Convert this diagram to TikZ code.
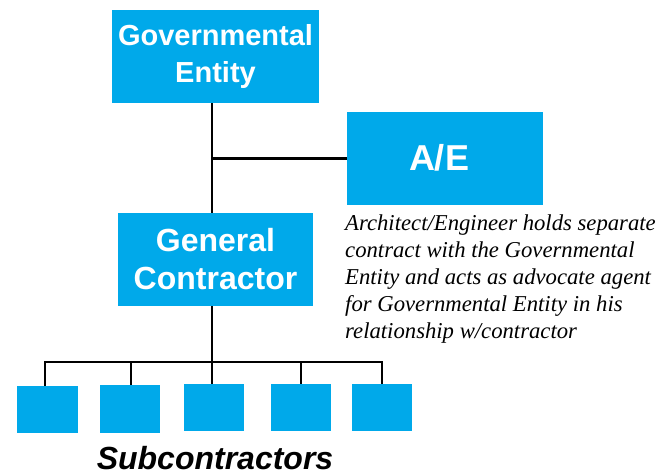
\documentclass[tikz,border=0pt]{standalone}
\usepackage{fontspec}
\setmainfont{Liberation Serif}
\setsansfont{Liberation Sans}
\definecolor{boxblue}{RGB}{0,169,234}
\begin{document}
\begin{tikzpicture}[x=1pt,y=-1pt,
  bluebox/.style={fill=boxblue, draw=none, inner sep=0pt, text=white, align=center, font=\sffamily\bfseries},
  conn/.style={draw=black, line width=2.2pt}]
\useasboundingbox (0,0) rectangle (671,475);
\node[bluebox, minimum width=207pt, minimum height=93pt, font=\sffamily\bfseries\fontsize{29}{37}\selectfont] (GE) at (215.5,56.5) {Governmental\\Entity};
\node[bluebox, minimum width=196pt, minimum height=93pt] (AE) at (444.8,158.5) {};
\node[text=white, font=\sffamily\bfseries\fontsize{36}{40}\selectfont, inner sep=0pt] (AEt) at (439,158) {A/E};
\node[bluebox, minimum width=195pt, minimum height=93pt, font=\sffamily\bfseries\fontsize{32}{38}\selectfont] (GC) at (215.5,259.5) {General\\Contractor};
\node[bluebox, minimum width=61pt, minimum height=47pt] (s1) at (47.5,409.5) {};
\node[bluebox, minimum width=60pt, minimum height=48pt] (s2) at (130,409) {};
\node[bluebox, minimum width=60pt, minimum height=47pt] (s3) at (214,407.5) {};
\node[bluebox, minimum width=60pt, minimum height=47pt] (s4) at (301,407.5) {};
\node[bluebox, minimum width=60pt, minimum height=47pt] (s5) at (382,407.5) {};
\coordinate (sp) at (211.7,0);
\coordinate (bus) at (211.7,362);
\coordinate (d1) at (45,362);
\coordinate (d2) at (131,362);
\coordinate (d4) at (301,362);
\coordinate (d5) at (382,362);
\draw[conn] (GE.south -| sp) -- (GC.north -| sp);
\draw[conn] (sp |- AE.west) -- (AE.west);
\draw[conn] (GC.south -| sp) -- (bus);
\draw[conn] (d1 |- s1.north) -- (d1) -- (d5) -- (d5 |- s5.north);
\draw[conn] (d2) -- (d2 |- s2.north);
\draw[conn] (bus) -- (bus |- s3.north);
\draw[conn] (d4) -- (d4 |- s4.north);
\node[anchor=north west, inner sep=0pt, align=left, font=\itshape\fontsize{22.7}{27}\selectfont] (note) at (345,215) {Architect/Engineer holds separate\\contract with the Governmental\\Entity and acts as advocate agent\\for Governmental Entity in his\\relationship w/contractor};
\node[anchor=base, font=\sffamily\bfseries\itshape\fontsize{32}{34}\selectfont, inner sep=0pt] (subs) at (215,469) {Subcontractors};
\end{tikzpicture}
\end{document}
